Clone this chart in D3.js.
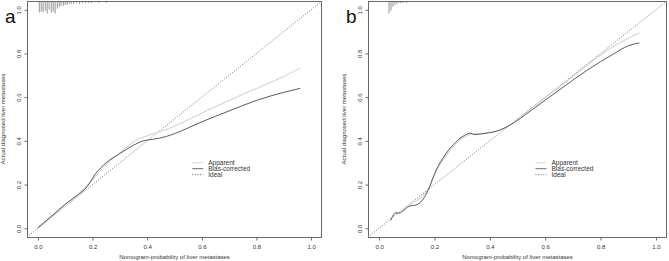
<html>
<head>
<style>
  body { margin: 0; background: #fff; }
  svg { display: block; font-family: "Liberation Sans", Arial, sans-serif; }
  .box { fill: none; stroke: #6a6a6a; stroke-width: 1px; }
  .tick-lbl { font-size: 6px; fill: #333; }
  .ttl { font-size: 6px; fill: #333; }
  .leg { font-size: 6.5px; fill: #333; }
</style>
<script src="https://cdnjs.cloudflare.com/ajax/libs/d3/7.8.5/d3.min.js"></script>
</head>
<body>
<script>
var width = 669, height = 261;

var ticks = [0, 0.2, 0.4, 0.6, 0.8, 1.0];
var tickLabels = ["0.0", "0.2", "0.4", "0.6", "0.8", "1.0"];
var legendNames = ["Apparent", "Bias-corrected", "Ideal"];

// panel a
var aAppX = [0.0, 0.05, 0.1, 0.15, 0.2, 0.25, 0.3, 0.35, 0.4, 0.45, 0.5, 0.6, 0.7, 0.8, 0.9, 0.96];
var aAppY = [0.0, 0.055, 0.11, 0.16, 0.222, 0.292, 0.345, 0.395, 0.423, 0.443, 0.467, 0.528, 0.585, 0.64, 0.695, 0.733];
var aBiasX = [0.0, 0.05, 0.1, 0.15, 0.18, 0.21, 0.25, 0.3, 0.35, 0.385, 0.42, 0.47, 0.5, 0.6, 0.7, 0.8, 0.9, 0.96];
var aBiasY = [0.003, 0.055, 0.11, 0.156, 0.19, 0.248, 0.3, 0.342, 0.38, 0.4, 0.407, 0.42, 0.433, 0.487, 0.537, 0.585, 0.622, 0.64];
var aRugX = [0.005, 0.012, 0.019, 0.027, 0.034, 0.041, 0.049, 0.056, 0.063, 0.071, 0.078, 0.085, 0.093, 0.1, 0.107, 0.115, 0.122, 0.13,
             0.141, 0.152, 0.163, 0.174, 0.185, 0.196, 0.207, 0.222, 0.237, 0.251, 0.266, 0.281, 0.3, 0.318, 0.34, 0.36, 0.398];
var aRugN = [12, 11, 12, 10, 13, 9, 12, 11, 13, 8, 6, 5, 5, 4, 4, 3, 3, 3,
             2, 3, 2, 2, 2, 2, 1, 2, 1, 2, 1, 1, 1, 1, 1, 1, 1];

// panel b
var bAppX = [0.042, 0.06, 0.08, 0.1, 0.12, 0.14, 0.16, 0.18, 0.2, 0.24, 0.28, 0.31, 0.33, 0.36, 0.4, 0.44, 0.47, 0.55, 0.65, 0.75, 0.85, 0.9, 0.94];
var bAppY = [0.04, 0.065, 0.08, 0.1, 0.115, 0.13, 0.15, 0.185, 0.245, 0.33, 0.39, 0.42, 0.43, 0.432, 0.438, 0.452, 0.472, 0.548, 0.645, 0.745, 0.835, 0.87, 0.895];
var bBiasX = [0.042, 0.06, 0.072, 0.084, 0.108, 0.138, 0.163, 0.181, 0.205, 0.241, 0.277, 0.307, 0.331, 0.343, 0.386, 0.434, 0.47, 0.55, 0.65, 0.75, 0.85, 0.9, 0.94];
var bBiasY = [0.036, 0.071, 0.069, 0.077, 0.1, 0.109, 0.14, 0.186, 0.263, 0.34, 0.394, 0.424, 0.435, 0.429, 0.435, 0.448, 0.47, 0.54, 0.632, 0.722, 0.8, 0.835, 0.848];
var bRugX = [0.036, 0.043, 0.05, 0.057, 0.064, 0.071, 0.078, 0.085, 0.093, 0.1, 0.108, 0.116, 0.124, 0.132, 0.14, 0.148, 0.155];
var bRugN = [13, 10, 6, 4, 3, 2, 2, 2, 1, 2, 1, 1, 1, 1, 1, 1, 1];

var svg = d3.select("body").append("svg")
    .attr("width", width)
    .attr("height", height);

drawPanel({ left: 27, right: 322, top: 1, bottom: 237, label: "a",
            appX: aAppX, appY: aAppY, biasX: aBiasX, biasY: aBiasY, rugX: aRugX, rugN: aRugN });
drawPanel({ left: 368, right: 667, top: 1, bottom: 237, label: "b",
            appX: bAppX, appY: bAppY, biasX: bBiasX, biasY: bBiasY, rugX: bRugX, rugN: bRugN });

function drawPanel(p) {
    var x = d3.scaleLinear().domain([-0.04, 1.04]).range([p.left, p.right]);
    var y = d3.scaleLinear().domain([-0.04, 1.04]).range([p.bottom, p.top]);
    var g = svg.append("g");

    var clipId = "clip-" + p.label;
    g.append("clipPath").attr("id", clipId)
        .append("rect")
        .attr("x", p.left).attr("y", p.top)
        .attr("width", p.right - p.left).attr("height", p.bottom - p.top);

    var plot = g.append("g").attr("clip-path", "url(#" + clipId + ")");

    // ideal line
    plot.append("line")
        .attr("x1", x(-0.04)).attr("y1", y(-0.04))
        .attr("x2", x(1.04)).attr("y2", y(1.04))
        .attr("stroke", "#555")
        .attr("stroke-width", 0.8)
        .attr("stroke-dasharray", "1,1.6");

    var line = d3.line()
        .x(d => x(d[0]))
        .y(d => y(d[1]))
        .curve(d3.curveMonotoneX);

    plot.append("path")
        .datum(d3.zip(p.appX, p.appY))
        .attr("d", line)
        .attr("fill", "none")
        .attr("stroke", "#d4d4d4")
        .attr("stroke-width", 1.1);

    plot.append("path")
        .datum(d3.zip(p.biasX, p.biasY))
        .attr("d", line)
        .attr("fill", "none")
        .attr("stroke", "#5a5a5a")
        .attr("stroke-width", 1);

    // rug of predicted probabilities along the top
    var h = d3.scaleLinear().domain([0, 13]).range([0, 12.5]);
    plot.selectAll(".rug")
        .data(d3.zip(p.rugX, p.rugN))
        .enter().append("line")
        .attr("x1", d => x(d[0])).attr("x2", d => x(d[0]))
        .attr("y1", p.top)
        .attr("y2", d => p.top + h(d[1]))
        .attr("stroke", "#666")
        .attr("stroke-width", 0.7);

    g.append("rect").attr("class", "box")
        .attr("x", p.left + 0.5).attr("y", p.top + 0.5)
        .attr("width", p.right - p.left - 1).attr("height", p.bottom - p.top);

    // x axis
    var xa = g.append("g").attr("transform", "translate(0," + (p.bottom + 0.5) + ")")
        .call(d3.axisBottom(x).tickValues(ticks).tickFormat((d, i) => tickLabels[i]).tickSize(3).tickPadding(4));
    xa.select(".domain").attr("stroke", "#6a6a6a")
        .attr("d", "M" + x(0) + ",0H" + x(1));
    xa.selectAll(".tick line").attr("stroke", "#6a6a6a");
    xa.selectAll("text").attr("class", "tick-lbl").attr("font-size", null).attr("font-family", null);

    // y axis
    var ya = g.append("g").attr("transform", "translate(" + (p.left + 0.5) + ",0)")
        .call(d3.axisLeft(y).tickValues(ticks).tickFormat((d, i) => tickLabels[i]).tickSize(3).tickPadding(0));
    ya.select(".domain").attr("stroke", "#6a6a6a")
        .attr("d", "M0," + y(0) + "V" + y(1));
    ya.selectAll(".tick line").attr("stroke", "#6a6a6a");
    ya.selectAll("text")
        .attr("class", "tick-lbl").attr("font-size", null).attr("font-family", null)
        .attr("x", null).attr("dy", null)
        .attr("text-anchor", "middle")
        .attr("transform", "translate(-7,0) rotate(-90)");

    var cx = (x(0) + x(1)) / 2;
    g.append("text").attr("class", "ttl")
        .attr("x", cx).attr("y", 259)
        .attr("text-anchor", "middle")
        .text("Nomogram-probability of liver metastases");

    g.append("text").attr("class", "ttl")
        .attr("transform", "translate(" + (p.left - 22) + "," + ((y(0) + y(1)) / 2) + ") rotate(-90)")
        .attr("text-anchor", "middle")
        .text("Actual diagnosed liver metastases");

    g.append("text")
        .attr("x", p.left - 22).attr("y", 23)
        .attr("font-size", "19px")
        .attr("fill", "#111")
        .text(p.label);

    // legend
    var lx = x(0.565), ly = y(0.3);
    var styles = [
        { stroke: "#d4d4d4", dash: null },
        { stroke: "#5a5a5a", dash: null },
        { stroke: "#555", dash: "1,1.6" }
    ];
    var leg = g.append("g").selectAll("g")
        .data(legendNames)
        .enter().append("g")
        .attr("transform", (d, i) => "translate(" + lx + "," + (ly + i * 6) + ")");
    leg.append("line")
        .attr("x1", 0).attr("x2", 11)
        .attr("stroke", (d, i) => styles[i].stroke)
        .attr("stroke-dasharray", (d, i) => styles[i].dash)
        .attr("stroke-width", 0.9);
    leg.append("text").attr("class", "leg")
        .attr("x", 16).attr("y", 2.2)
        .text(d => d);
}
</script>
</body>
</html>
